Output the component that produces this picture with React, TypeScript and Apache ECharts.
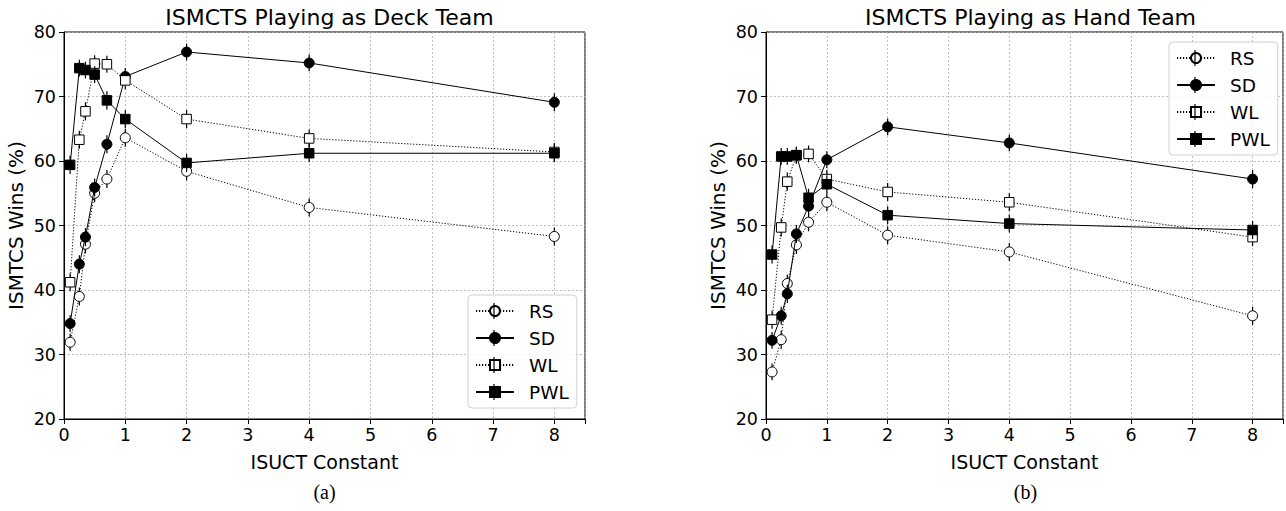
import React, { useEffect, useRef } from "react";
import * as echarts from "echarts";

// ISUCT constant values (x)
const xValues = [0.1, 0.25, 0.35, 0.5, 0.7, 1, 2, 4, 8];

// Panel (a): ISMCTS playing as Deck Team
const deckRS = [31.9, 39.0, 47.1, 55.0, 57.2, 63.6, 58.4, 52.8, 48.3];
const deckSD = [34.8, 44.0, 48.2, 55.9, 62.6, 73.1, 76.9, 75.2, 69.1];
const deckWL = [41.2, 63.3, 67.7, 75.1, 75.0, 72.5, 66.5, 63.5, 61.4];
const deckPWL = [59.4, 74.4, 74.1, 73.4, 69.4, 66.5, 59.7, 61.2, 61.2];

// Panel (b): ISMCTS playing as Hand Team
const handRS = [27.3, 32.3, 41.0, 47.0, 50.5, 53.6, 48.5, 45.9, 36.0];
const handSD = [32.2, 36.0, 39.4, 48.7, 53.0, 60.2, 65.3, 62.8, 57.2];
const handWL = [35.4, 49.7, 56.8, 60.9, 61.1, 57.2, 55.2, 53.6, 48.2];
const handPWL = [45.5, 60.7, 60.7, 60.9, 54.3, 56.4, 51.6, 50.3, 49.3];

// Error half-widths
const errRS = [1.3, 1.4, 1.4, 1.4, 1.4, 1.4, 1.4, 1.4, 1.4];
const errSD = [1.3, 1.4, 1.4, 1.4, 1.4, 1.3, 1.3, 1.3, 1.4];
const errWL = [1.4, 1.4, 1.4, 1.3, 1.3, 1.4, 1.4, 1.4, 1.4];
const errPWL = [1.4, 1.3, 1.3, 1.3, 1.4, 1.4, 1.4, 1.4, 1.4];

const seriesNames = ["RS", "SD", "WL", "PWL"];
const panelTitles = ["ISMCTS Playing as Deck Team", "ISMCTS Playing as Hand Team"];
const panelLetters = ["(a)", "(b)"];
const xAxisName = "ISUCT Constant";
const yAxisName = "ISMTCS Wins (%)";

const FONT = "DejaVu Sans";

const styles = [
  { symbol: "circle", size: 10, fill: "#ffffff", dash: [1.2, 1.8] as any },
  { symbol: "circle", size: 10, fill: "#000000", dash: "solid" as any },
  { symbol: "rect", size: 9.5, fill: "#ffffff", dash: [1.2, 1.8] as any },
  { symbol: "rect", size: 9.5, fill: "#000000", dash: "solid" as any },
];

const grids = [
  { left: 64, top: 32, width: 521, height: 387 },
  { left: 766, top: 32, width: 519, height: 387 },
];

const legendPos = [
  { left: 468, top: 295 },
  { left: 1169, top: 42 },
];

export default function App() {
  const ref = useRef<HTMLDivElement>(null);

  useEffect(() => {
    document.body.style.margin = "0";
    if (!ref.current) return;
    const chart = echarts.init(ref.current, null, { renderer: "svg" });

    const panels = [
      { values: [deckRS, deckSD, deckWL, deckPWL] },
      { values: [handRS, handSD, handWL, handPWL] },
    ];
    const errs = [errRS, errSD, errWL, errPWL];

    const series: any[] = [];
    panels.forEach((panel, p) => {
      panel.values.forEach((vals, i) => {
        const st = styles[i];
        series.push({
          type: "custom",
          name: seriesNames[i] + "-err-" + p,
          xAxisIndex: p,
          yAxisIndex: p,
          z: 2 + i * 2,
          silent: true,
          encode: { x: 0, y: 1 },
          data: xValues.map((x, k) => [x, vals[k], errs[i][k]]),
          renderItem: (params: any, api: any) => {
            const x = api.value(0);
            const y = api.value(1);
            const e = api.value(2);
            const a = api.coord([x, y - e]);
            const b = api.coord([x, y + e]);
            return {
              type: "line",
              shape: { x1: a[0], y1: a[1], x2: b[0], y2: b[1] },
              style: { stroke: "#000", lineWidth: 1.2 },
            };
          },
        });
        series.push({
          type: "line",
          name: seriesNames[i],
          xAxisIndex: p,
          yAxisIndex: p,
          z: 3 + i * 2,
          data: xValues.map((x, k) => [x, vals[k]]),
          symbol: st.symbol,
          symbolSize: st.size,
          showSymbol: true,
          showAllSymbol: true,
          lineStyle: { color: "#000", width: 1, type: st.dash },
          itemStyle: { color: st.fill, borderColor: "#000", borderWidth: 1 },
          emphasis: { disabled: true },
        });
      });
    });

    const legendItemH = 20;
    const legendGap = 7;
    const legendPadTop = 6;
    const legendPadLeft = 7;
    const iconW = 38;

    const graphic: any[] = [];
    legendPos.forEach((lp) => {
      seriesNames.forEach((_, i) => {
        const cy = lp.top + legendPadTop + i * (legendItemH + legendGap) + legendItemH / 2;
        const cx = lp.left + legendPadLeft + iconW / 2;
        graphic.push({
          type: "line",
          z: 200,
          shape: { x1: cx, y1: cy - 8, x2: cx, y2: cy + 8 },
          style: { stroke: "#000", lineWidth: 1.2 },
        });
      });
    });
    panelLetters.forEach((t, p) => {
      graphic.push({
        type: "text",
        x: grids[p].left + grids[p].width / 2,
        y: 492,
        style: {
          text: t,
          fontFamily: "Liberation Serif",
          fontSize: 20,
          fill: "#000",
          textAlign: "center",
          textVerticalAlign: "middle",
        },
      });
    });

    const option: any = {
      animation: false,
      backgroundColor: "#ffffff",
      title: panelTitles.map((t, p) => ({
        text: t,
        left: grids[p].left + grids[p].width / 2,
        top: 1,
        textAlign: "center",
        textStyle: { fontFamily: FONT, fontSize: 22, fontWeight: "normal", color: "#000" },
      })),
      grid: grids.map((g) => ({
        ...g,
        show: true,
        borderColor: "#000",
        borderWidth: 1,
        backgroundColor: "transparent",
      })),
      xAxis: grids.map((_, p) => ({
        type: "value",
        gridIndex: p,
        min: 0,
        max: 8.5,
        interval: 1,
        name: xAxisName,
        nameLocation: "middle",
        nameGap: 33,
        nameTextStyle: { fontFamily: FONT, fontSize: 19, color: "#000" },
        axisLine: { show: true, onZero: false, lineStyle: { color: "#000", width: 1 } },
        axisTick: { show: true, length: 5, lineStyle: { color: "#000" } },
        axisLabel: {
          fontFamily: FONT,
          fontSize: 17.5,
          color: "#000",
          margin: 7,
          formatter: (v: number) => (Number.isInteger(v) ? String(v) : ""),
        },
        splitLine: { show: true, lineStyle: { color: "#b0b0b0", width: 0.8, type: [2, 2] } },
      })),
      yAxis: grids.map((_, p) => ({
        type: "value",
        gridIndex: p,
        min: 20,
        max: 80,
        interval: 10,
        name: yAxisName,
        nameLocation: "middle",
        nameGap: 38,
        nameTextStyle: { fontFamily: FONT, fontSize: 20, color: "#000" },
        axisLine: { show: true, lineStyle: { color: "#000", width: 1 } },
        axisTick: { show: true, length: 5, lineStyle: { color: "#000" } },
        axisLabel: { fontFamily: FONT, fontSize: 17.5, color: "#000", margin: 8 },
        splitLine: { show: true, lineStyle: { color: "#b0b0b0", width: 0.8, type: [2, 2] } },
      })),
      legend: legendPos.map((lp) => ({
        left: lp.left,
        top: lp.top,
        orient: "vertical",
        data: seriesNames,
        itemWidth: iconW,
        itemHeight: 12.5,
        itemGap: legendGap,
        padding: [legendPadTop, 8, legendPadTop, legendPadLeft],
        borderColor: "#d0d0d0",
        borderWidth: 1,
        borderRadius: 4,
        backgroundColor: "rgba(255,255,255,0.85)",
        selectedMode: false,
        z: 100,
        textStyle: {
          fontFamily: FONT,
          fontSize: 18.5,
          color: "#000",
          lineHeight: legendItemH,
          padding: [0, 0, 0, 10],
        },
      })),
      graphic,
      series,
    };

    chart.setOption(option);
    return () => chart.dispose();
  }, []);

  return <div ref={ref} style={{ width: 1286, height: 511 }} />;
}
